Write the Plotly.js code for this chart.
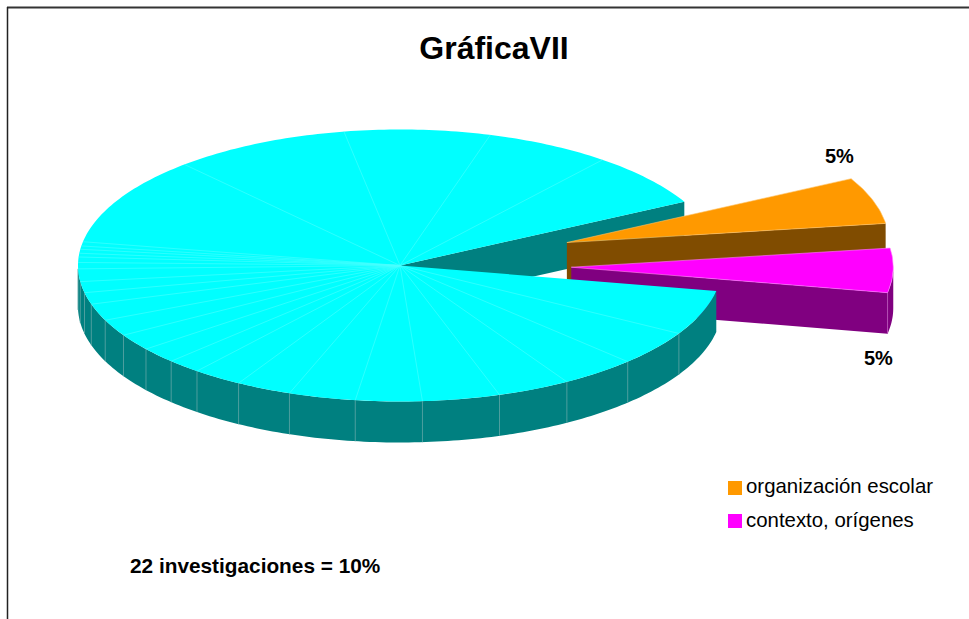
<!DOCTYPE html>
<html>
<head>
<meta charset="utf-8">
<script src="https://cdn.plot.ly/plotly-3.0.1.min.js"></script>
<style>html,body{margin:0;padding:0;background:#fff;overflow:hidden}#chart{width:969px;height:619px}</style>
</head>
<body>
<div id="chart"></div>
<script>
// Data (percent of the whole, going round from the back-right edge of the big group)
const mainValues = [6.39,6.31,7.31,8.89,10.53,0.5,0.39,0.47,0.44,0.64,0.75,1.5,1.31,1.39,2,1.97,1.97,1.89,1.72,2.5,2.78,3.36,3.33,3.89,3.67,3.83,4.17,5.33];
const magentaValue = 5.25;
const orangeValue = 5.53;
const legendLabels = ['organización escolar','contexto, orígenes'];
const pieLabels = ['5%','5%'];
const noteText = '22 investigaciones = 10%';
const titleText = 'GráficaVII';

// Tilted-pie geometry: axis units are pie radii
const W = 969, H = 619, CX = 400, CY = 265.5, RX = 322, RY = 136;
const DEPTH = 41 / RY, START = 28, EXPL_ORANGE = 0.545, EXPL_MAGENTA = 0.532;
const FONT = 'Liberation Sans, Arial, sans-serif';
const total = mainValues.reduce((a, b) => a + b, 0) + magentaValue + orangeValue;
const deg = v => v * 360 / total;
const rad = t => t * Math.PI / 180;
const ux = p => (p - CX) / RX, uy = p => (CY - p) / RY;

function arc(t0, t1, ox, oy, dz) {
  const n = Math.max(2, Math.ceil(Math.abs(t1 - t0))), xs = [], ys = [];
  for (let i = 0; i <= n; i++) {
    const t = rad(t0 + (t1 - t0) * i / n);
    xs.push(ox + Math.cos(t)); ys.push(oy + Math.sin(t) - dz);
  }
  return [xs, ys];
}
function poly(xs, ys, fill, line, lw) {
  return {type:'scatter', mode: line ? 'lines' : 'none', x: xs, y: ys, fill:'toself', fillcolor: fill,
    line: line ? {color: line, width: lw || 0.5} : {width: 0}, hoverinfo:'skip', showlegend:false};
}
function cutFace(ox, oy, t) {
  const ex = ox + Math.cos(rad(t)), ey = oy + Math.sin(rad(t));
  return [[ox, ex, ex, ox, ox], [oy, ey, ey - DEPTH, oy - DEPTH, oy]];
}

const traces = [];
const cum = [START];
mainValues.forEach(v => cum.push(cum[cum.length - 1] + deg(v)));
const mainEnd = cum[cum.length - 1];
const mT1 = mainEnd, mT2 = mT1 + deg(magentaValue);
const oT1 = mT2, oT2 = oT1 + deg(orangeValue);

// main pie: back cut face
let f = cutFace(0, 0, START);
traces.push(poly(f[0], f[1], '#008080'));

// orange slice
const oMid = rad((oT1 + oT2) / 2);
const ox = EXPL_ORANGE * Math.cos(oMid), oy = EXPL_ORANGE * Math.sin(oMid);
f = cutFace(ox, oy, oT1);
traces.push(poly(f[0], f[1], '#804c00'));
let a = arc(oT1, oT2, ox, oy, 0);
traces.push(poly([ox, ...a[0], ox], [oy, ...a[1], oy], '#ff9900', '#ffc266', 0.6));

// magenta slice
const mMid = rad((mT1 + mT2) / 2);
const mx = EXPL_MAGENTA * Math.cos(mMid), my = EXPL_MAGENTA * Math.sin(mMid);
f = cutFace(mx, my, mT1);
traces.push(poly(f[0], f[1], '#800080'));
let w = arc(mT1, 360, mx, my, 0), wb = arc(360, mT1, mx, my, DEPTH);
traces.push(poly([...w[0], ...wb[0]], [...w[1], ...wb[1]], '#800080'));
const mex = mx + Math.cos(rad(mT1)), mey = my + Math.sin(rad(mT1));
traces.push({type:'scatter', mode:'lines', x:[mex, mex], y:[mey, mey - DEPTH],
  line:{color:'#b34db3', width:1}, hoverinfo:'skip', showlegend:false});
a = arc(mT1, mT2, mx, my, 0);
traces.push(poly([mx, ...a[0], mx], [my, ...a[1], my], '#ff00ff', '#ff80ff', 0.6));

// main pie: front wall
w = arc(180, mainEnd, 0, 0, 0); wb = arc(mainEnd, 180, 0, 0, DEPTH);
traces.push(poly([...w[0], ...wb[0]], [...w[1], ...wb[1]], '#008080'));
// wall dividers
const wx = [], wy = [];
cum.slice(1, -1).forEach(t => {
  if (t > 180) {
    const c = Math.cos(rad(t)), s = Math.sin(rad(t));
    wx.push(c, c, null); wy.push(s, s - DEPTH, null);
  }
});
traces.push({type:'scatter', mode:'lines', x:wx, y:wy, line:{color:'#4d9e9e', width:1}, hoverinfo:'skip', showlegend:false});

// main pie: top
a = arc(START, mainEnd, 0, 0, 0);
traces.push(poly([0, ...a[0], 0], [0, ...a[1], 0], '#00ffff'));
const rx = [], ry = [];
cum.slice(1, -1).forEach(t => { rx.push(0, Math.cos(rad(t)), null); ry.push(0, Math.sin(rad(t)), null); });
traces.push({type:'scatter', mode:'lines', x:rx, y:ry, line:{color:'#4dffff', width:0.6}, hoverinfo:'skip', showlegend:false});

// legend swatches
traces.push({type:'scatter', mode:'markers', x:[ux(735), ux(735)], y:[uy(488), uy(521)],
  marker:{symbol:'square', size:14, color:['#ff9900','#ff00ff'], line:{width:0}}, hoverinfo:'skip', showlegend:false});

function note(text, px, py, size, bold, anchor) {
  return {xref:'x', yref:'y', x:ux(px), y:uy(py), text: bold ? '<b>'+text+'</b>' : text, showarrow:false,
    xanchor: anchor, yanchor:'middle', font:{family:FONT, size:size, color:'#000'}, borderpad:0};
}

const layout = {
  width:W, height:H, margin:{l:0,r:0,t:0,b:0,pad:0}, paper_bgcolor:'#fff', plot_bgcolor:'#fff', showlegend:false,
  title:{text:'<b>'+titleText+'</b>', x:494/W, xanchor:'center', y:1-48/H, yanchor:'middle', font:{family:FONT, size:32, color:'#000'}},
  xaxis:{range:[ux(0), ux(W)], visible:false, fixedrange:true},
  yaxis:{range:[uy(H), uy(0)], visible:false, fixedrange:true},
  annotations:[
    note(pieLabels[0], 839.5, 156, 20, true, 'center'),
    note(pieLabels[1], 878.5, 358, 20, true, 'center'),
    note(noteText, 129, 565, 20.8, true, 'left'),
    note(legendLabels[0], 745, 486, 20.4, false, 'left'),
    note(legendLabels[1], 745, 520, 20.4, false, 'left')
  ],
  shapes:[
    {type:'line', xref:'paper', yref:'paper', x0:7/W, x1:1, y0:1-7.5/H, y1:1-7.5/H, line:{color:'#333', width:2}},
    {type:'line', xref:'paper', yref:'paper', x0:7.5/W, x1:7.5/W, y0:1-7/H, y1:0, line:{color:'#222', width:1.5}}
  ]
};
Plotly.newPlot('chart', traces, layout, {displayModeBar:false, staticPlot:true});
</script>
</body>
</html>
